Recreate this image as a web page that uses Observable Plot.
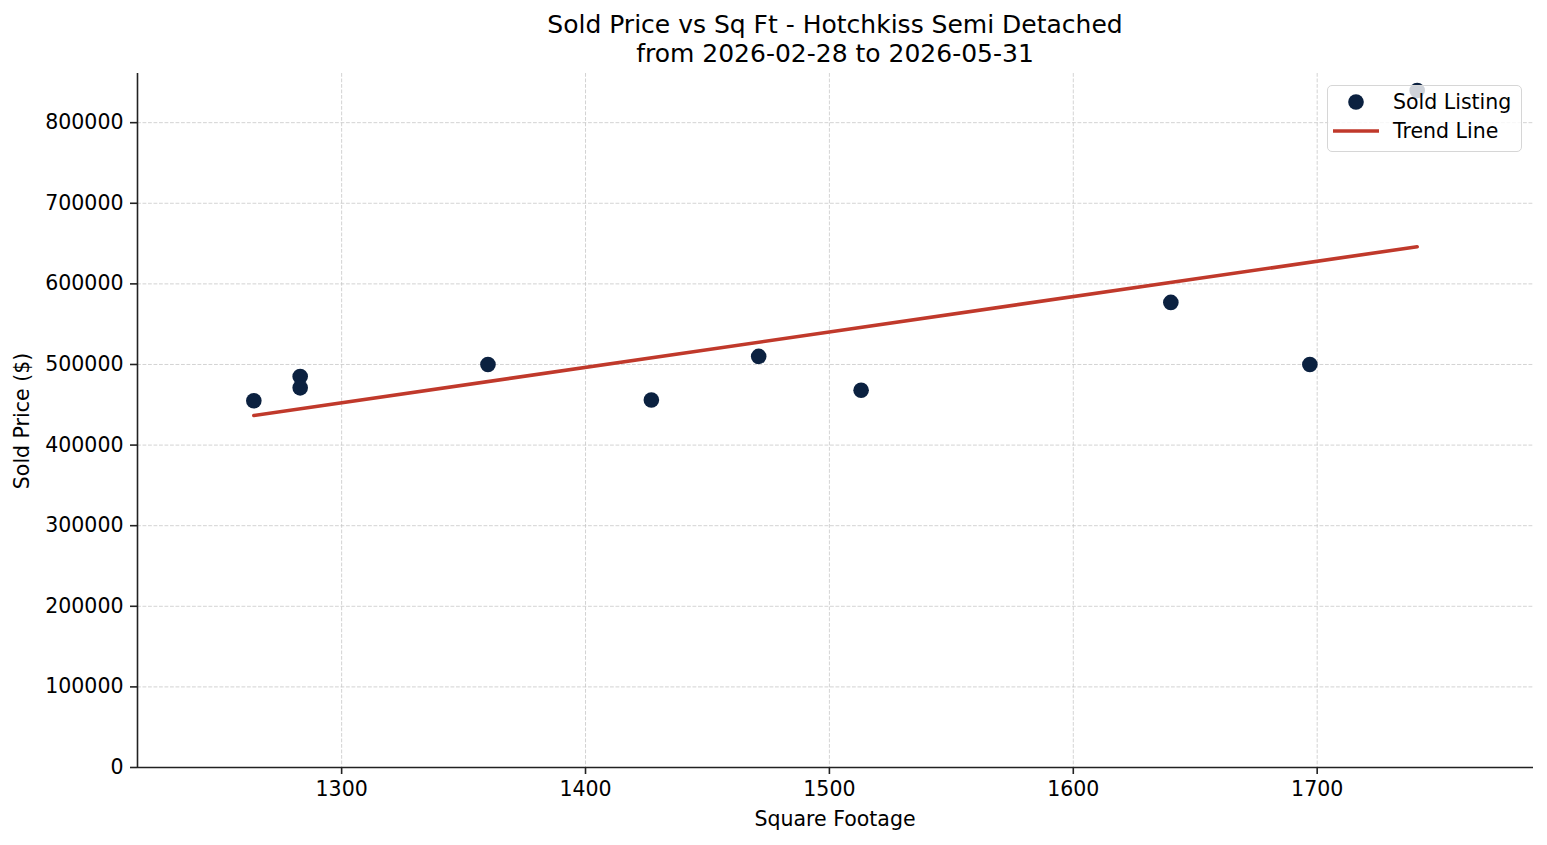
<!DOCTYPE html>
<html>
<head>
<meta charset="utf-8">
<script src="https://cdn.jsdelivr.net/npm/d3@7"></script>
<script src="https://cdn.jsdelivr.net/npm/@observablehq/plot@0.6"></script>
<style>
  html, body { margin: 0; padding: 0; background: #fff; }
  body { font-family: "DejaVu Sans", sans-serif; color: #000; }
  #wrap { position: relative; width: 1547px; height: 845px; }
  #title {
    position: absolute; left: 137px; width: 1396px; top: 10px;
    text-align: center; font-size: 25px; line-height: 29px;
  }
  #chart { position: absolute; left: 0; top: 66px; }
  .axis-label { position: absolute; font-size: 20.5px; line-height: 24px; white-space: nowrap; }
  #xlabel { left: 137px; width: 1396px; top: 807px; text-align: center; }
  #ylabel { left: 22px; top: 421px; transform: translate(-50%, -50%) rotate(-90deg); }
  #legend {
    position: absolute; left: 1327px; top: 85px; width: 193px; height: 65px;
    border: 1px solid #d6d6d6; border-radius: 5px;
    background: rgba(255, 255, 255, 0.8);
  }
  #legend svg { position: absolute; left: 0; top: 0; }
</style>
</head>
<body>
<div id="wrap">
  <div id="title"></div>
  <div id="chart"></div>
  <div id="xlabel" class="axis-label"></div>
  <div id="ylabel" class="axis-label"></div>
  <div id="legend"></div>
</div>
<script>
// Sold listings: square footage and sold price
const sqft  = [1264, 1283, 1283, 1360, 1427, 1471, 1513, 1640, 1697, 1741];
const price = [455000, 485000, 471000, 500000, 456000, 510000, 468000, 577000, 500000, 840000];

const titleLines = ["Sold Price vs Sq Ft - Hotchkiss Semi Detached", "from 2026-02-28 to 2026-05-31"];
const xLabel = "Square Footage";
const yLabel = "Sold Price ($)";
const xTicks = [1300, 1400, 1500, 1600, 1700];
const yTicks = [0, 100000, 200000, 300000, 400000, 500000, 600000, 700000, 800000];
const legendLabels = ["Sold Listing", "Trend Line"];

const dotColor = "#0b2140";
const trendColor = "#c0392b";
const axisColor = "#222";
const gridStyle = {stroke: "#c4c4c4", strokeOpacity: 0.75, strokeWidth: 1, strokeDasharray: "3.8,1.7"};

const rows = sqft.map((s, i) => ({sqft: s, price: price[i]}));

// least-squares fit for the trend line
const mx = d3.mean(sqft), my = d3.mean(price);
const slope = d3.sum(rows, d => (d.sqft - mx) * (d.price - my)) / d3.sum(rows, d => (d.sqft - mx) ** 2);
const intercept = my - slope * mx;
const [xmin, xmax] = d3.extent(sqft);
const trend = [xmin, xmax].map(x => ({sqft: x, price: intercept + slope * x}));

const pad = (xmax - xmin) * 0.1;
const xDomain = [xmin - pad, xmax + pad];
const yDomain = [0, d3.max(price) * 1.025];

document.getElementById("title").innerHTML = titleLines.map(t => `<div>${t}</div>`).join("");
document.getElementById("xlabel").textContent = xLabel;
document.getElementById("ylabel").textContent = yLabel;

const chart = Plot.plot({
  width: 1547,
  height: 779,
  marginTop: 7,
  marginBottom: 78,
  marginLeft: 137,
  marginRight: 14,
  style: {fontFamily: "DejaVu Sans, sans-serif", fontSize: "20.5px", color: "#000", background: "#fff"},
  x: {domain: xDomain},
  y: {domain: yDomain},
  marks: [
    Plot.gridX(xTicks, gridStyle),
    Plot.gridY(yTicks, gridStyle),
    Plot.axisX(xTicks, {tickSize: 7, tickPadding: 7, strokeWidth: 1.6, stroke: axisColor,
      tickFormat: d3.format("d"), label: null}),
    Plot.axisY(yTicks, {tickSize: 7, tickPadding: 7, strokeWidth: 1.6, stroke: axisColor,
      tickFormat: d3.format("d"), label: null}),
    Plot.ruleX([xDomain[0]], {stroke: axisColor, strokeWidth: 1.6}),
    Plot.ruleY([0], {stroke: axisColor, strokeWidth: 1.6}),
    Plot.dot(rows, {x: "sqft", y: "price", r: 7.8, fill: dotColor, stroke: "none"}),
    Plot.line(trend, {x: "sqft", y: "price", stroke: trendColor, strokeWidth: 3.6})
  ]
});
document.getElementById("chart").appendChild(chart);

// legend box drawn over the upper-right corner of the plot
const lg = d3.select("#legend").append("svg").attr("width", 193).attr("height", 65)
  .style("font-family", "DejaVu Sans, sans-serif").style("font-size", "20.5px");
lg.append("circle").attr("cx", 28).attr("cy", 16).attr("r", 7.8).attr("fill", dotColor);
lg.append("line").attr("x1", 5).attr("x2", 51).attr("y1", 45).attr("y2", 45)
  .attr("stroke", trendColor).attr("stroke-width", 3.6);
legendLabels.forEach((t, i) => {
  lg.append("text").attr("x", 65).attr("y", 16 + i * 29).attr("dy", "0.35em").text(t);
});
</script>
</body>
</html>
